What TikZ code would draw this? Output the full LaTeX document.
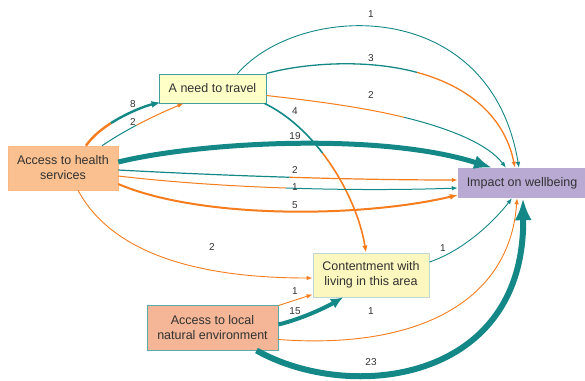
\documentclass[tikz,border=0pt]{standalone}
\usepackage{fontspec}
\setmainfont{Liberation Sans}
\usetikzlibrary{calc,arrows.meta}
\definecolor{teal1}{RGB}{20,135,135}
\definecolor{orng}{RGB}{245,125,30}
\definecolor{txt}{RGB}{50,50,50}
\definecolor{yelfill}{RGB}{255,255,200}
\definecolor{confill}{RGB}{252,247,190}
\definecolor{conbord}{RGB}{190,215,210}
\definecolor{hfill}{RGB}{250,192,143}
\definecolor{lfill}{RGB}{244,182,150}
\definecolor{ifill}{RGB}{185,170,212}
\newcommand{\twotone}[9]{%
  \coordinate (qA) at ($#1!#5!#2$);
  \coordinate (qB) at ($#2!#5!#3$);
  \coordinate (qC) at ($#3!#5!#4$);
  \coordinate (qD) at ($(qA)!#5!(qB)$);
  \coordinate (qE) at ($(qB)!#5!(qC)$);
  \coordinate (qM) at ($(qD)!#5!(qE)$);
  \draw[#6,line width=#8] #1 .. controls (qA) and (qD) .. (qM);
  \draw[#7,line width=#8,-{#9}] (qM) .. controls (qE) and (qC) .. #4;
}
\tikzset{
  box/.style={rectangle, inner sep=2pt, align=center, text=txt,
    font=\fontsize{12.5}{15}\selectfont},
  lbl/.style={inner sep=0pt, text=txt, font=\fontsize{10}{12}\selectfont},
}
\begin{document}
\begin{tikzpicture}[x=1pt,y=-1pt]
\useasboundingbox (0,0) rectangle (585,380);
% nodes
\node[box, fill=yelfill, draw=teal1!80, line width=0.9pt, minimum width=107pt, minimum height=29pt] (travel) at (212.5,88.5) {A need to travel};
\node[box, fill=hfill, draw=hfill!90!orng, line width=0.5pt, minimum width=110pt, minimum height=44pt] (health) at (63,168) {Access to health\\services};
\node[box, fill=ifill, minimum width=128pt, minimum height=30pt] (impact) at (522,183) {Impact on wellbeing};
\node[box, fill=confill, draw=conbord, line width=0.9pt, minimum width=116pt, minimum height=44pt] (content) at (371,275) {Contentment with\\living in this area};
\node[box, fill=lfill, draw=teal1!70, line width=0.9pt, minimum width=131pt, minimum height=45pt] (local) at (212.5,327.5) {Access to local\\natural environment};
% endpoints
\coordinate (s1) at ([xshift=23pt]health.north);
\coordinate (e1) at ([xshift=2pt,yshift=1pt]travel.south west);
\coordinate (s2) at ([xshift=39pt]health.north);
\coordinate (e2) at ([xshift=-29pt]travel.south);
\coordinate (s3) at ([xshift=25pt]travel.north);
\coordinate (e3) at ([xshift=-3pt]impact.north);
\coordinate (s4) at (travel.north east);
\coordinate (e4) at ([xshift=-7pt]impact.north);
\coordinate (s5) at ([yshift=-7pt]travel.east);
\coordinate (e5) at ([xshift=-16pt]impact.north);
\coordinate (s6) at ([xshift=-2pt]travel.south east);
\coordinate (e6) at ([xshift=-5pt]content.north);
\coordinate (s7) at ([yshift=6pt]health.east);
\coordinate (e7) at ([xshift=-30pt]impact.north);
\coordinate (s8) at ([yshift=-2pt]health.east);
\coordinate (e8) at ([yshift=3pt]impact.west);
\coordinate (s9) at ([yshift=-8pt]health.east);
\coordinate (e9) at ([yshift=-5pt]impact.west);
\coordinate (s10) at ([yshift=-16pt]health.east);
\coordinate (e10) at ([yshift=-12pt]impact.west);
\coordinate (s11) at ([xshift=15pt]health.south);
\coordinate (e11) at ([yshift=-3pt]content.west);
\coordinate (s12) at ([yshift=-1pt]local.north east);
\coordinate (e12) at ([yshift=3pt]content.south west);
\coordinate (s13) at ([yshift=3pt]local.east);
\coordinate (e13) at ([xshift=-28pt]content.south);
\coordinate (s14) at ([yshift=-12pt]local.east);
\coordinate (e14) at ([xshift=-5pt]impact.south);
\coordinate (s15) at ([xshift=44pt]local.south);
\coordinate (e15) at ([xshift=1pt]impact.south);
\coordinate (s16) at ([yshift=13pt]content.east);
\coordinate (e16) at ([xshift=-10pt]impact.south);
% edges
\twotone{(s1)}{(100,125)}{(135,108)}{(e1)}{0.4}{orng}{teal1}{2.4pt}{Latex[length=9pt,width=7pt]}
\twotone{(s2)}{(125,130)}{(155,115)}{(e2)}{0.45}{teal1}{orng}{1pt}{Latex[length=6pt,width=4.5pt]}
\draw[teal1, line width=0.9pt, -{Latex[length=6pt,width=4.5pt]}] (s3) .. controls (300,2) and (490,-5) .. (e3);
\twotone{(s4)}{(320,58)}{(490,45)}{(e4)}{0.55}{teal1}{orng}{1.3pt}{Latex[length=6pt,width=4.5pt]}
\twotone{(s5)}{(350,105)}{(470,120)}{(e5)}{0.5}{orng}{teal1}{1pt}{Latex[length=6pt,width=4.5pt]}
\twotone{(s6)}{(310,125)}{(355,185)}{(e6)}{0.45}{teal1}{orng}{1.6pt}{Latex[length=7pt,width=5.5pt]}
\draw[teal1, line width=5pt, -{Latex[length=18pt,width=14pt]}] (s7) .. controls (200,142) and (380,132) .. (e7);
\twotone{(s8)}{(230,176)}{(350,180)}{(e8)}{0.5}{teal1}{orng}{1.2pt}{Latex[length=6pt,width=4.5pt]}
\twotone{(s9)}{(220,188)}{(350,192)}{(e9)}{0.5}{orng}{teal1}{1pt}{Latex[length=6pt,width=4.5pt]}
\draw[orng, line width=2pt, -{Latex[length=8pt,width=6pt]}] (s10) .. controls (200,219) and (360,218) .. (e10);
\draw[orng, line width=0.9pt, -{Latex[length=6pt,width=4.5pt]}] (s11) .. controls (110,250) and (190,278) .. (e11);
\draw[orng, line width=0.9pt, -{Latex[length=6pt,width=4.5pt]}] (s12) -- (e12);
\draw[teal1, line width=4pt, -{Latex[length=12pt,width=11pt]}] (s13) .. controls (305,318) and (330,305) .. (e13);
\draw[orng, line width=0.9pt, -{Latex[length=6pt,width=4.5pt]}] (s14) .. controls (420,350) and (510,300) .. (e14);
\draw[teal1, line width=6pt, -{Latex[length=22pt,width=17pt]}] (s15) .. controls (350,403) and (525,383) .. (e15);
\draw[teal1, line width=0.9pt, -{Latex[length=6pt,width=4.5pt]}] (s16) .. controls (465,250) and (495,220) .. (e16);
% labels
\node[lbl] (l1) at (133,104) {8};
\node[lbl] (l2) at (133,122) {2};
\node[lbl] (l3) at (371,14) {1};
\node[lbl] (l4) at (371,58) {3};
\node[lbl] (l5) at (371,95) {2};
\node[lbl] (l6) at (295,111) {4};
\node[lbl] (l7) at (295,136) {19};
\node[lbl] (l8) at (295,170) {2};
\node[lbl] (l9) at (295,187) {1};
\node[lbl] (l10) at (295,205) {5};
\node[lbl] (l11) at (212,247) {2};
\node[lbl] (l12) at (295,291) {1};
\node[lbl] (l13) at (295,311) {15};
\node[lbl] (l14) at (371,311) {1};
\node[lbl] (l15) at (371,362) {23};
\node[lbl] (l16) at (443,248) {1};
\end{tikzpicture}
\end{document}
